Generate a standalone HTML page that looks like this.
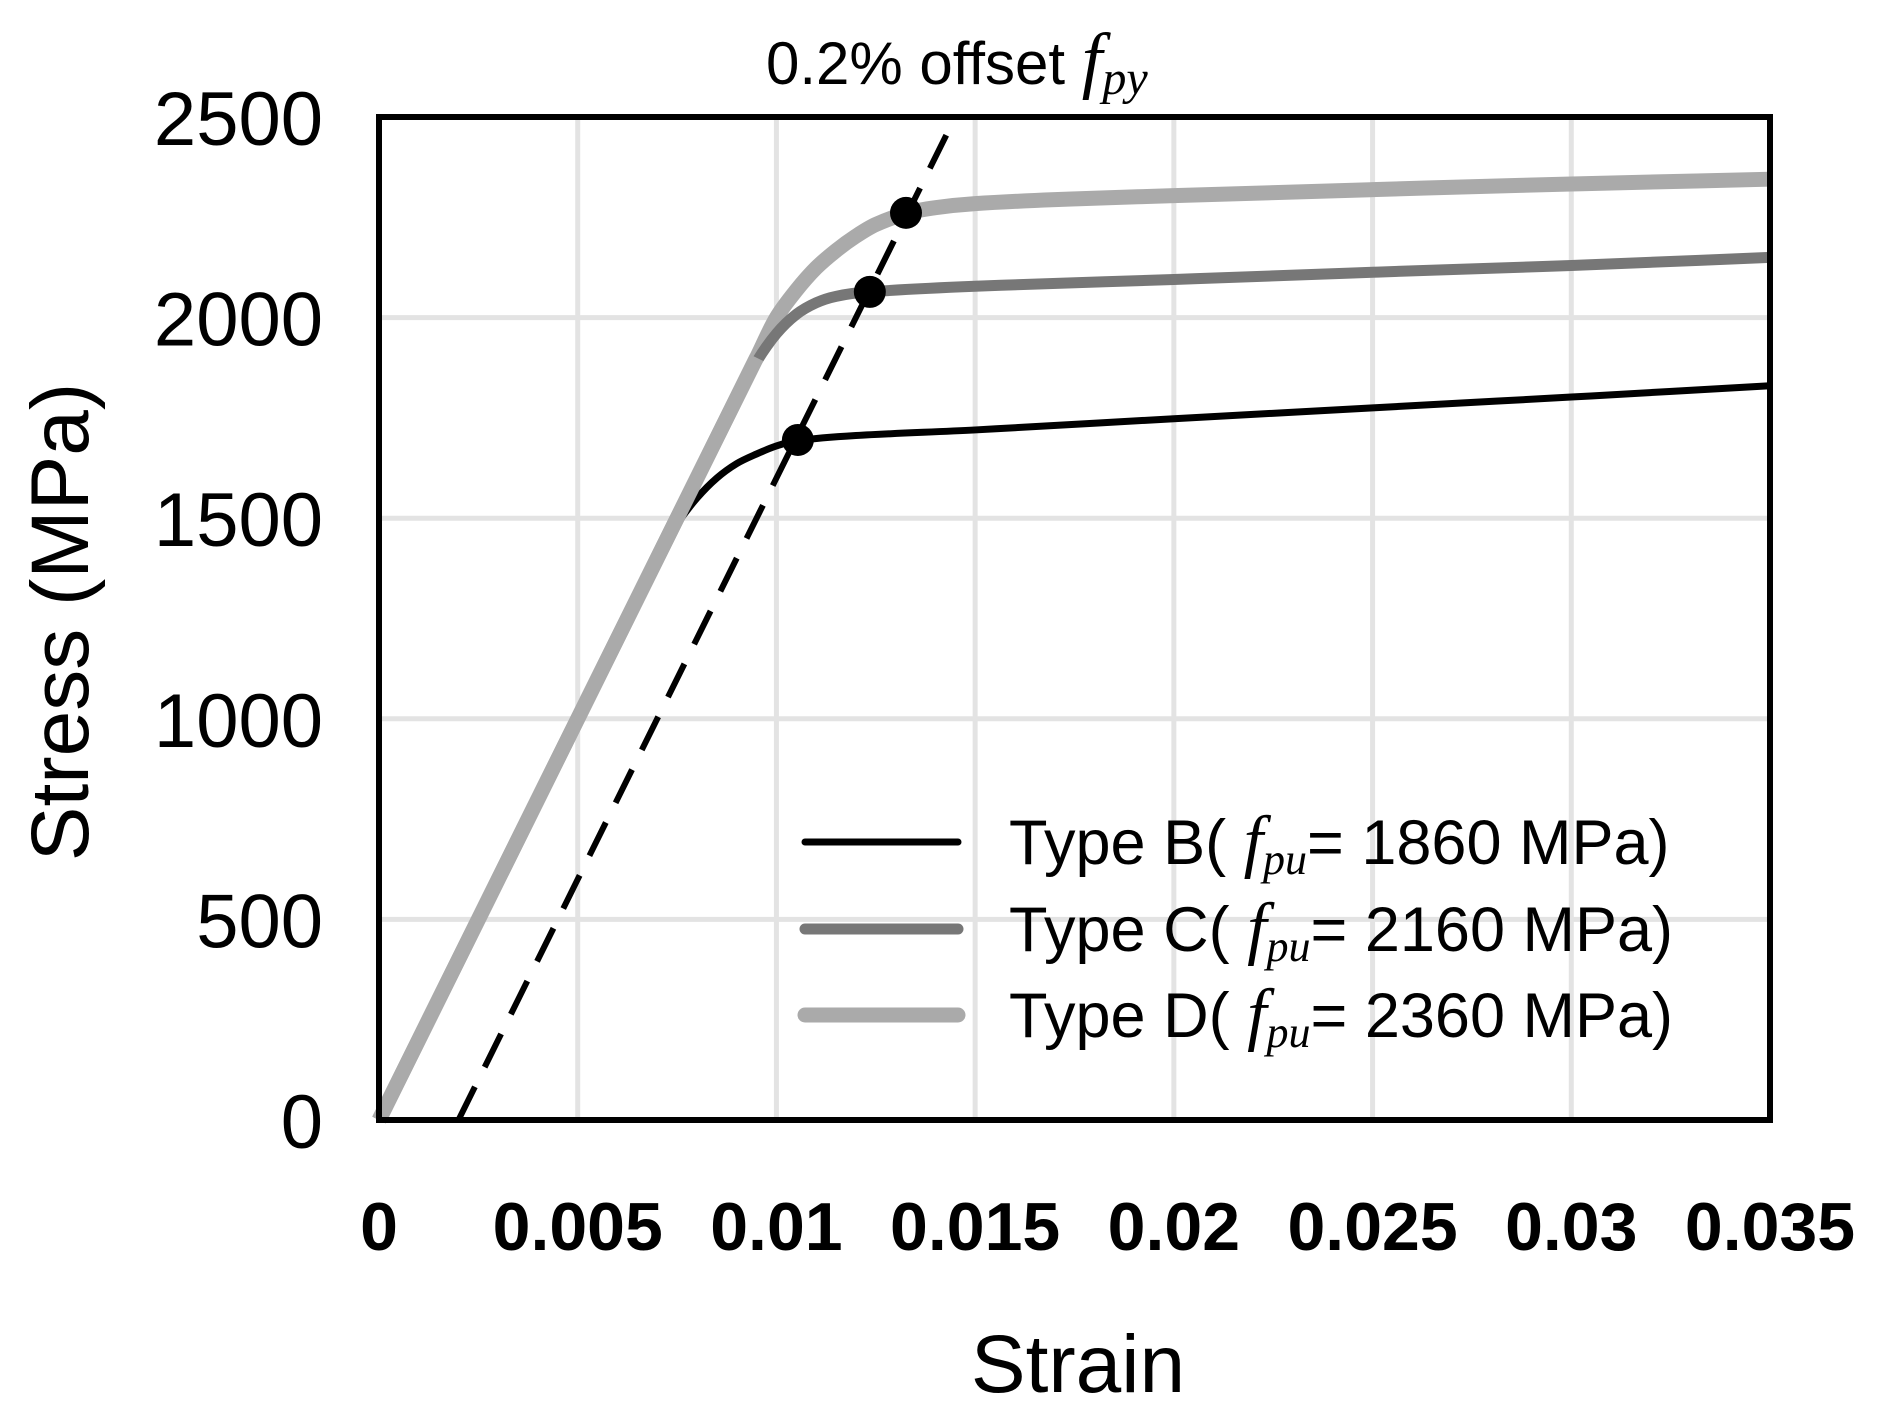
<!DOCTYPE html>
<html><head><meta charset="utf-8"><style>
html,body{margin:0;padding:0;background:#fff;}
svg{display:block;}
text{font-family:"Liberation Sans",sans-serif;}
</style></head><body>
<svg id="chart" width="1877" height="1422" viewBox="0 0 1877 1422" xmlns="http://www.w3.org/2000/svg">
<g id="grid"></g>
<g id="series"></g>
<rect x="379" y="117" width="1391" height="1003" fill="none" stroke="#000" stroke-width="6"/>
<g id="yticks"></g>
<g id="xticks"></g>
<text transform="translate(88,622) rotate(-90)" text-anchor="middle" font-size="82">Stress (MPa)</text>
<text x="1078" y="1392" text-anchor="middle" font-size="82">Strain</text>
<text x="766" y="84" font-size="60">0.2% offset <tspan font-family="Liberation Serif" font-style="italic" font-size="74">f</tspan><tspan font-family="Liberation Serif" font-style="italic" font-size="48" dy="10">py</tspan></text>
<g>
 <g>
  <line x1="805" y1="842" x2="958" y2="842" stroke="#000" stroke-width="7" stroke-linecap="round"/>
  <text x="1009" y="864" font-size="63">Type B(  <tspan font-family="Liberation Serif" font-style="italic" font-size="70">f</tspan><tspan font-family="Liberation Serif" font-style="italic" font-size="44" dy="10">pu</tspan><tspan dy="-10">= 1860 MPa)</tspan></text>
 </g>
 <g>
  <line x1="805" y1="929" x2="958" y2="929" stroke="#777" stroke-width="11" stroke-linecap="round"/>
  <text x="1009" y="951" font-size="63">Type C(  <tspan font-family="Liberation Serif" font-style="italic" font-size="70">f</tspan><tspan font-family="Liberation Serif" font-style="italic" font-size="44" dy="10">pu</tspan><tspan dy="-10">= 2160 MPa)</tspan></text>
 </g>
 <g>
  <line x1="805" y1="1015" x2="958" y2="1015" stroke="#aaa" stroke-width="15" stroke-linecap="round"/>
  <text x="1009" y="1037" font-size="63">Type D(  <tspan font-family="Liberation Serif" font-style="italic" font-size="70">f</tspan><tspan font-family="Liberation Serif" font-style="italic" font-size="44" dy="10">pu</tspan><tspan dy="-10">= 2360 MPa)</tspan></text>
 </g>
</g>
</svg>
<script>
const xTicks = [0, 0.005, 0.01, 0.015, 0.02, 0.025, 0.03, 0.035];
const xTickLabels = ["0", "0.005", "0.01", "0.015", "0.02", "0.025", "0.03", "0.035"];
const yTicks = [0, 500, 1000, 1500, 2000, 2500];
const yTickLabels = ["0", "500", "1000", "1500", "2000", "2500"];
const strainB = [0, 0.007, 0.0075, 0.008, 0.0085, 0.009, 0.0095, 0.010, 0.0105, 0.012, 0.015, 0.02, 0.025, 0.03, 0.035];
const stressB = [0, 1400, 1485, 1550, 1600, 1636, 1660, 1680, 1693, 1706, 1720, 1748, 1775, 1802, 1830];
const strainC = [0, 0.009, 0.0095, 0.010, 0.0105, 0.011, 0.0115, 0.0123, 0.015, 0.02, 0.025, 0.03, 0.035];
const stressC = [0, 1800, 1890, 1960, 2008, 2037, 2053, 2064, 2078, 2095, 2113, 2130, 2150];
const strainD = [0, 0.0095, 0.010, 0.0105, 0.011, 0.0115, 0.012, 0.0125, 0.0133, 0.014, 0.015, 0.017, 0.02, 0.025, 0.03, 0.035];
const stressD = [0, 1900, 2000, 2068, 2124, 2167, 2203, 2232, 2261, 2274, 2284, 2294, 2304, 2319, 2333, 2345];
const yieldStrain = [0.01054, 0.01235, 0.01326];
const yieldStress = [1695, 2064, 2261];
const offsetStrain = [0.002, 0.0145];
const offsetStress = [0, 2500];

const X0 = 379, X1 = 1770, Y0 = 1120, Y1 = 117;
function sx(v){ return X0 + v / 0.035 * (X1 - X0); }
function sy(v){ return Y0 - v / 2500 * (Y0 - Y1); }
const NS = "http://www.w3.org/2000/svg";
function mk(tag, attrs, parent){ const e = document.createElementNS(NS, tag); for (const k in attrs) e.setAttribute(k, attrs[k]); parent.appendChild(e); return e; }

const grid = document.getElementById('grid');
xTicks.forEach((t, i) => {
  if (i === 0 || i === xTicks.length - 1) return;
  const l = mk('line', {x1: sx(t), x2: sx(t), y1: Y1, y2: Y0, stroke: '#e3e3e3', 'stroke-width': 5}, grid);
  
  
});
yTicks.forEach((t, i) => {
  if (i === 0 || i === yTicks.length - 1) return;
  const l = mk('line', {x1: X0, x2: X1, y1: sy(t), y2: sy(t), stroke: '#e3e3e3', 'stroke-width': 5}, grid);
  
  
});
const yt = document.getElementById('yticks');
yTicks.forEach((t, i) => {
  const e = mk('text', {x: 323, y: sy(t) + 28, 'text-anchor': 'end', 'font-size': 76}, yt);
  e.textContent = yTickLabels[i];
  
  
});
const xt = document.getElementById('xticks');
xTicks.forEach((t, i) => {
  const e = mk('text', {x: sx(t), y: 1250, 'text-anchor': 'middle', 'font-size': 68, 'font-weight': 'bold'}, xt);
  e.textContent = xTickLabels[i];
  
  
});

function dist(p, q){ return Math.hypot(q[0] - p[0], q[1] - p[1]) || 1; }
function smoothPath(xs, ys){
  const p = xs.map((x, i) => [sx(x), sy(ys[i])]);
  const n = p.length;
  const tan = p.map((b, i) => {
    const a = p[Math.max(0, i - 1)], c = p[Math.min(n - 1, i + 1)];
    const d = dist(a, c);
    return [(c[0] - a[0]) / d, (c[1] - a[1]) / d];
  });
  let d = 'M' + p[0][0] + ',' + p[0][1];
  for (let i = 0; i < n - 1; i++){
    const b = p[i], c = p[i + 1], L = dist(b, c) / 3;
    const c1 = [b[0] + tan[i][0] * L, b[1] + tan[i][1] * L];
    const c2 = [c[0] - tan[i + 1][0] * L, c[1] - tan[i + 1][1] * L];
    d += ' C' + c1[0] + ',' + c1[1] + ' ' + c2[0] + ',' + c2[1] + ' ' + c[0] + ',' + c[1];
  }
  return d;
}
const sg = document.getElementById('series');
const off = mk('line', {x1: sx(offsetStrain[0]), y1: sy(offsetStress[0]), x2: sx(offsetStrain[1]), y2: sy(offsetStress[1]), stroke: '#000', 'stroke-width': 6, 'stroke-dasharray': '37 22'}, sg);


const pD = mk('path', {d: smoothPath(strainD, stressD), fill: 'none', stroke: '#aaa', 'stroke-width': 15, 'stroke-linejoin': 'round'}, sg);


const pC = mk('path', {d: smoothPath(strainC, stressC), fill: 'none', stroke: '#777', 'stroke-width': 11, 'stroke-linejoin': 'round'}, sg);


const pB = mk('path', {d: smoothPath(strainB, stressB), fill: 'none', stroke: '#000', 'stroke-width': 7, 'stroke-linejoin': 'round'}, sg);


const pD2 = mk('path', {d: 'M' + sx(strainD[0]) + ',' + sy(stressD[0]) + ' L' + sx(strainD[1]) + ',' + sy(stressD[1]), fill: 'none', stroke: '#aaa', 'stroke-width': 15}, sg);


yieldStrain.forEach((v, i) => {
  const c = mk('circle', {cx: sx(v), cy: sy(yieldStress[i]), r: 16, fill: '#000'}, sg);
  
  
});
</script>
</body></html>
